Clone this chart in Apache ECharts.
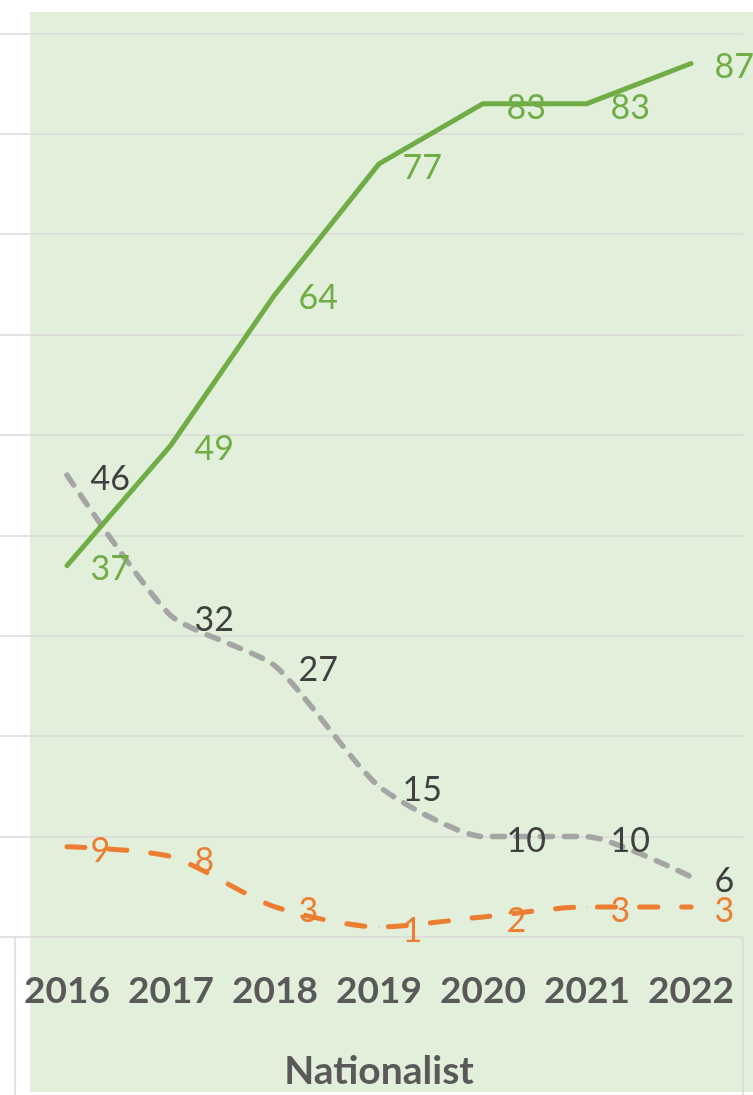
<!DOCTYPE html>
<html lang="en">
<head>
    <meta charset="UTF-8">
    <title>Nationalist</title>
    <script src="https://cdn.jsdelivr.net/npm/echarts@6/dist/echarts.min.js"></script>
    <style>
        html, body { margin: 0; padding: 0; background: #fff; }
        #chart { width: 753px; height: 1095px; }
    </style>
</head>
<body>
<div id="chart"></div>
<script>
    var years = ['2016', '2017', '2018', '2019', '2020', '2021', '2022'];
    var groupLabel = ['Nationalist'];
    var greenValues = [37, 49, 64, 77, 83, 83, 87];
    var greyValues = [46, 32, 27, 15, 10, 10, 6];
    var orangeValues = [9, 8, 3, 1, 2, 3, 3];

    var font = 'Lato';

    function labelOf(color) {
        return {
            show: true,
            position: 'right',
            distance: 23,
            offset: [0, 4],
            color: color,
            fontFamily: font,
            fontSize: 34
        };
    }

    var chart = echarts.init(document.getElementById('chart'));

    var option = {
        animation: false,
        graphic: [{
            type: 'rect',
            z: -10,
            silent: true,
            shape: {x: 30, y: 12, width: 730, height: 1080},
            style: {fill: '#e2efda'}
        }],
        grid: [
            {left: 15, right: 10, top: 33.4, bottom: 158},
            {left: 0, right: 10, top: 33.4, bottom: 158}
        ],
        xAxis: [{
            type: 'category',
            gridIndex: 0,
            position: 'bottom',
            data: years,
            axisLine: {show: false},
            axisTick: {show: false},
            axisLabel: {
                interval: 0,
                color: '#595959',
                fontFamily: font,
                fontWeight: 'bold',
                fontSize: 37,
                margin: 36
            }
        }, {
            type: 'category',
            gridIndex: 0,
            position: 'bottom',
            data: groupLabel,
            axisLine: {show: false},
            axisTick: {
                show: true,
                length: 160,
                lineStyle: {color: '#d9d9d9', width: 1.5}
            },
            axisLabel: {
                color: '#595959',
                fontFamily: font,
                fontWeight: 'bold',
                fontSize: 39,
                margin: 115
            }
        }, {
            type: 'value',
            gridIndex: 1,
            show: false
        }],
        yAxis: [{
            type: 'value',
            gridIndex: 0,
            min: 0,
            max: 90,
            interval: 10,
            show: false
        }, {
            type: 'value',
            gridIndex: 1,
            min: 0,
            max: 90,
            interval: 10,
            axisLine: {show: false},
            axisTick: {show: false},
            axisLabel: {show: false},
            splitLine: {lineStyle: {color: '#d9d9d9', width: 1.5}}
        }],
        series: [{
            name: 'green',
            type: 'line',
            xAxisIndex: 0,
            yAxisIndex: 0,
            data: greenValues,
            symbol: 'circle',
            symbolSize: 1,
            itemStyle: {color: '#70ad47'},
            lineStyle: {color: '#70ad47', width: 5, cap: 'round'},
            label: labelOf('#70ad47'),
            z: 4
        }, {
            name: 'grey',
            type: 'line',
            xAxisIndex: 0,
            yAxisIndex: 0,
            data: greyValues,
            smooth: 0.2,
            symbol: 'circle',
            symbolSize: 1,
            itemStyle: {color: '#a5a5a5'},
            lineStyle: {color: '#a5a5a5', width: 5.5, type: [12, 12], cap: 'round', join: 'round'},
            label: labelOf('#404040'),
            z: 3
        }, {
            name: 'orange',
            type: 'line',
            xAxisIndex: 0,
            yAxisIndex: 0,
            data: orangeValues,
            smooth: 0.25,
            symbol: 'circle',
            symbolSize: 1,
            itemStyle: {color: '#ed7d31'},
            lineStyle: {color: '#ed7d31', width: 5, type: [18, 24], cap: 'round', join: 'round'},
            label: labelOf('#ed7d31'),
            z: 3
        }]
    };

    chart.setOption(option);
</script>
</body>
</html>
